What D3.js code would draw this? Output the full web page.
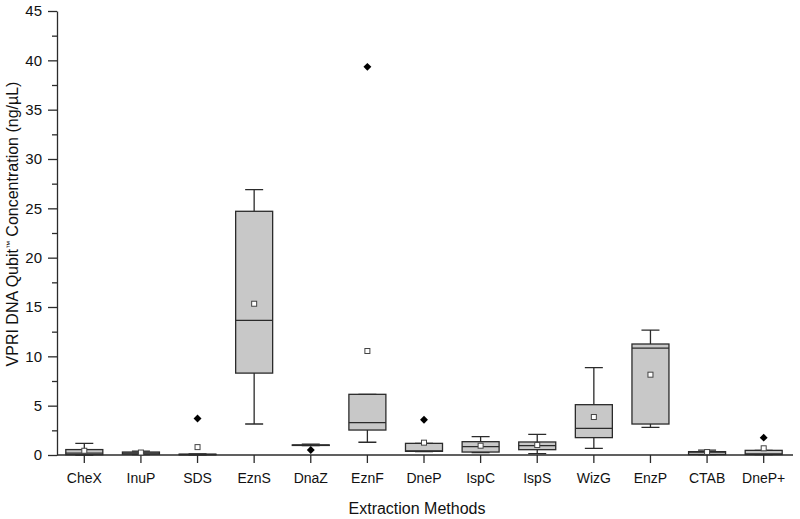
<!DOCTYPE html>
<html>
<head>
<meta charset="utf-8">
<script src="https://cdn.jsdelivr.net/npm/d3@7"></script>
<style>
    html, body { margin: 0; padding: 0; background: #fff; }
    svg { display: block; font-family: "Liberation Sans", Arial, sans-serif; }
</style>
</head>
<body>
<svg id="chart" width="800" height="519"></svg>
<script>
// values
const methods = ["CheX", "InuP", "SDS", "EznS", "DnaZ", "EznF", "DneP", "IspC", "IspS", "WizG", "EnzP", "CTAB", "DneP+"];
const whiskerLow  = [0.00, 0.05, 0.02, 3.14, 0.95, 1.29, 0.35, 0.24, 0.13, 0.68, 2.80, 0.03, 0.03];
const q1          = [0.03, 0.08, 0.03, 8.30, 0.97, 2.53, 0.37, 0.30, 0.54, 1.76, 3.14, 0.05, 0.05];
const median      = [0.20, 0.20, 0.05, 13.65, 1.00, 3.28, 0.42, 0.84, 0.95, 2.70, 10.84, 0.30, 0.10];
const q3          = [0.55, 0.30, 0.08, 24.70, 1.02, 6.15, 1.18, 1.35, 1.32, 5.10, 11.25, 0.34, 0.47];
const whiskerHigh = [1.18, 0.40, 0.10, 26.90, 1.10, 6.15, 1.18, 1.86, 2.09, 8.85, 12.66, 0.50, 0.47];
const means       = [0.43, 0.25, 0.80, 15.33, null, 10.54, 1.25, 0.94, 1.01, 3.85, 8.14, 0.30, 0.68];
const outliers    = [null, null, 3.70, null, 0.50, 39.34, 3.58, null, null, null, null, null, 1.76];
const yMajorTicks = [0, 5, 10, 15, 20, 25, 30, 35, 40, 45];
const yMinorTicks = [2.5, 7.5, 12.5, 17.5, 22.5, 27.5, 32.5, 37.5, 42.5];

const svg = d3.select("#chart");
const ink = "#2b2b2b";

const x = d3.scaleBand().domain(methods).range([56, 792]);
const y = d3.scaleLinear().domain([0, 45]).range([455, 11]);
const cx = m => x(m) + x.bandwidth() / 2;
const boxW = 37;
const capW = 18;

const boxes = methods.map((m, i) => ({
    m, lo: whiskerLow[i], q1: q1[i], med: median[i], q3: q3[i],
    hi: whiskerHigh[i], mean: means[i], out: outliers[i]
}));

// y axis (major + minor ticks)
const yAxis = svg.append("g").attr("transform", "translate(57,0)")
    .call(d3.axisLeft(y).tickValues(yMajorTicks).tickSize(9).tickPadding(6).tickSizeOuter(0));
svg.append("g").attr("transform", "translate(57,0)")
    .call(d3.axisLeft(y).tickValues(yMinorTicks).tickSize(5).tickFormat("").tickSizeOuter(0))
    .select(".domain").remove();
yAxis.selectAll("text").attr("font-size", 15).attr("fill", "#111");

// x axis
const xAxis = svg.append("g").attr("transform", "translate(0,455)")
    .call(d3.axisBottom(x).tickSize(8).tickSizeOuter(0));
xAxis.select(".domain").attr("d", "M57,0H793");
xAxis.selectAll("text").attr("font-size", 14).attr("fill", "#111")
    .attr("dy", null).attr("y", 27.5);

svg.selectAll(".domain, .tick line").attr("stroke", ink).attr("stroke-width", 1.3);

const plot = svg.append("g");

// whiskers
plot.selectAll("path.whisker").data(boxes).join("path")
    .attr("class", "whisker")
    .attr("d", d => {
        const c = cx(d.m);
        return `M${c},${y(d.q3)}V${y(d.hi)}M${c - capW / 2},${y(d.hi)}H${c + capW / 2}` +
               `M${c},${y(d.q1)}V${y(d.lo)}M${c - capW / 2},${y(d.lo)}H${c + capW / 2}`;
    })
    .attr("fill", "none").attr("stroke", ink).attr("stroke-width", 1.3);

// boxes
plot.selectAll("rect.box").data(boxes).join("rect")
    .attr("class", "box")
    .attr("x", d => cx(d.m) - boxW / 2)
    .attr("y", d => y(d.q3))
    .attr("width", boxW)
    .attr("height", d => Math.max(y(d.q1) - y(d.q3), 0.5))
    .attr("fill", "#c8c8c8").attr("stroke", ink).attr("stroke-width", 1.3);

// medians
plot.selectAll("line.median").data(boxes).join("line")
    .attr("class", "median")
    .attr("x1", d => cx(d.m) - boxW / 2).attr("x2", d => cx(d.m) + boxW / 2)
    .attr("y1", d => y(d.med)).attr("y2", d => y(d.med))
    .attr("stroke", ink).attr("stroke-width", 1.3);

// means as small open squares
plot.selectAll("rect.mean").data(boxes.filter(d => d.mean !== null)).join("rect")
    .attr("class", "mean")
    .attr("x", d => cx(d.m) - 2.5).attr("y", d => y(d.mean) - 2.5)
    .attr("width", 5).attr("height", 5)
    .attr("fill", "#fff").attr("stroke", "#444").attr("stroke-width", 1);

// outliers as filled diamonds
plot.selectAll("path.outlier").data(boxes.filter(d => d.out !== null)).join("path")
    .attr("class", "outlier")
    .attr("transform", d => `translate(${cx(d.m)},${y(d.out)}) rotate(45)`)
    .attr("d", "M-2.8,-2.8H2.8V2.8H-2.8Z")
    .attr("fill", "#000");

// axis titles
const yTitle = svg.append("text")
    .attr("transform", "translate(18,224) rotate(-90)")
    .attr("text-anchor", "middle")
    .attr("font-size", 16).attr("fill", "#111");
yTitle.append("tspan").text("VPRI DNA Qubit");
yTitle.append("tspan").attr("font-size", 8).attr("dy", -6).text("™");
yTitle.append("tspan").attr("dy", 6).text(" Concentration (ng/µL)");

svg.append("text")
    .attr("x", 417).attr("y", 514)
    .attr("text-anchor", "middle")
    .attr("font-size", 16).attr("fill", "#111")
    .text("Extraction Methods");
</script>
</body>
</html>
